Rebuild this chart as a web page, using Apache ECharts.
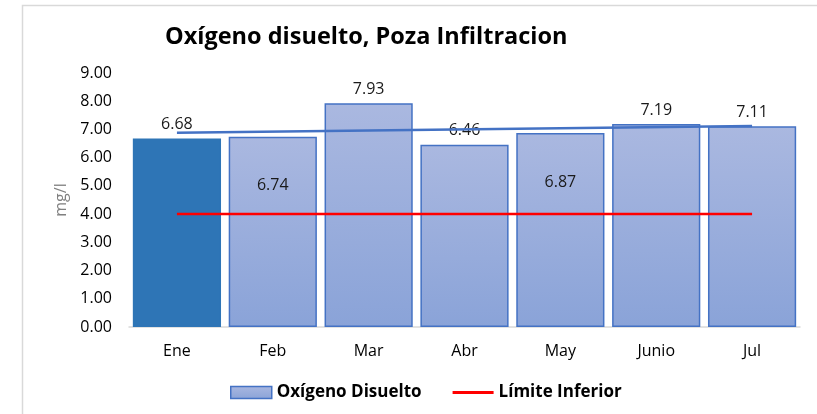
<!DOCTYPE html>
<html><head><meta charset="utf-8">
<script src="https://cdn.jsdelivr.net/npm/echarts@6/dist/echarts.min.js"></script>
<style>html,body{margin:0;padding:0;background:#fff}#c{width:817px;height:414px}</style>
</head><body><div id="c"></div>
<script>
const categories = ['Ene','Feb','Mar','Abr','May','Junio','Jul'];
const oxigeno = [6.68, 6.74, 7.93, 6.46, 6.87, 7.19, 7.11];
const limiteInferior = [4, 4, 4, 4, 4, 4, 4];
const trendEnds = [6.88, 7.12]; // trend line read at Ene and Jul
const yTicks = [0,1,2,3,4,5,6,7,8,9];
const insideLabelCats = ['Feb','May'];

const FONT = '"Open Sans", Lato, sans-serif';
const chart = echarts.init(document.getElementById('c'), null, {renderer:'canvas'});

const gradient = new echarts.graphic.LinearGradient(0,0,0,1,[{offset:0,color:'#aab8e0'},{offset:1,color:'#8aa3d8'}]);

const barData = oxigeno.map((v,i)=>{
  const item = {value:v};
  if (i===0) item.itemStyle = {color:'#2e75b6', borderColor:'#2e75b6'};
  if (insideLabelCats.includes(categories[i])) {
    item.label = {position:['50%',49], align:'center', verticalAlign:'middle'};
  }
  return item;
});

const trendData = categories.map((c,i)=> i===0 ? trendEnds[0] : (i===categories.length-1 ? trendEnds[1] : '-'));

chart.setOption({
  animation:false,
  graphic:[{type:'rect', shape:{x:22.5,y:5.5,width:820,height:420}, style:{fill:'none', stroke:'#d9d9d9', lineWidth:1.5}, silent:true}],
  title:{text:'Oxígeno disuelto, Poza Infiltracion', left:160, top:20,
    textStyle:{fontFamily:FONT, fontSize:23.5, fontWeight:'bold', color:'#000'}},
  grid:{left:129, right:17, top:73, bottom:87},
  legend:{left:225, top:379, itemWidth:41, itemHeight:12, itemGap:31,
    textStyle:{fontFamily:FONT, fontSize:17, fontWeight:'bold', color:'#000'},
    data:[{name:'Oxígeno Disuelto', icon:'rect', itemStyle:{color:gradient, borderColor:'#4472c4', borderWidth:1.5}},
          {name:'Límite Inferior', icon:'path://M0,0 L41,0 L41,3 L0,3 Z', itemStyle:{color:'#ff0000', borderWidth:0}}]},
  xAxis:{type:'category', data:categories,
    axisLine:{lineStyle:{color:'#d9d9d9', width:1.5}}, axisTick:{show:false},
    axisLabel:{fontFamily:FONT, fontSize:16, color:'#000', margin:16}},
  yAxis:{type:'value', min:0, max:9, interval:1,
    name:'mg/l', nameLocation:'middle', nameGap:58,
    nameTextStyle:{fontFamily:FONT, fontSize:16, color:'#808080'},
    axisLine:{show:false}, axisTick:{show:false}, splitLine:{show:false},
    axisLabel:{fontFamily:FONT, fontSize:16, color:'#000', margin:17,
      formatter:v=> yTicks.includes(v) ? v.toFixed(2) : ''}},
  series:[
    {name:'Oxígeno Disuelto', type:'bar', data:barData, barWidth:'92%',
      itemStyle:{color:gradient, borderColor:'#4472c4', borderWidth:1.5},
      label:{show:true, position:'top', distance:6, fontFamily:FONT, fontSize:16, color:'#1a1a1a',
        formatter:p=>p.value.toFixed(2)}, z:2},
    {name:'Límite Inferior', type:'line', data:limiteInferior, symbol:'none',
      lineStyle:{color:'#ff0000', width:2.5}, itemStyle:{color:'#ff0000'}, z:3},
    {name:'Tendencia', type:'line', data:trendData, connectNulls:true, symbol:'none',
      lineStyle:{color:'#4472c4', width:2.5}, z:4}
  ]
});
</script></body></html>
